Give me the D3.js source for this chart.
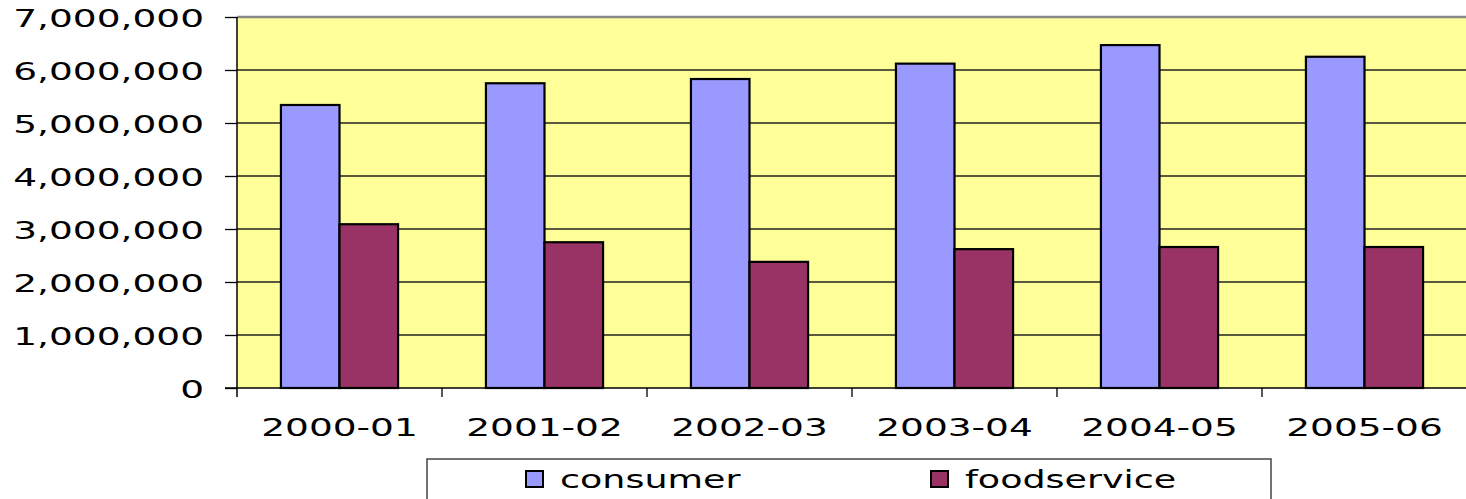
<!DOCTYPE html>
<html>
<head>
<meta charset="utf-8">
<script src="https://cdn.jsdelivr.net/npm/d3@7"></script>
<style>
  html, body { margin: 0; padding: 0; background: #ffffff; }
  svg { display: block; }
  text { font-family: "DejaVu Sans", sans-serif; fill: #000; }
</style>
</head>
<body>
<svg id="chart" width="1466" height="499"></svg>
<script>
const categories = ["2000-01", "2001-02", "2002-03", "2003-04", "2004-05", "2005-06"];
const seriesNames = ["consumer", "foodservice"];
const consumer = [5340000, 5750000, 5830000, 6120000, 6470000, 6250000];
const foodservice = [3090000, 2750000, 2380000, 2620000, 2660000, 2660000];
const yTicks = [0, 1000000, 2000000, 3000000, 4000000, 5000000, 6000000, 7000000];
const seriesColors = ["#9999FF", "#993366"];

const svg = d3.select("#chart");
const plotLeft = 237, plotRight = 1467, plotTop = 17, plotBottom = 388;

const x = d3.scaleBand().domain(categories).range([plotLeft, plotRight]).paddingInner(0).paddingOuter(0);
const x1 = d3.scaleBand().domain(seriesNames).range([0, x.bandwidth()]).paddingInner(0).paddingOuter(0.75);
const y = d3.scaleLinear().domain([0, 7000000]).range([plotBottom, plotTop]);
const color = d3.scaleOrdinal().domain(seriesNames).range(seriesColors);

// plot background
svg.append("rect").attr("x", plotLeft).attr("y", plotTop).attr("width", plotRight - plotLeft).attr("height", plotBottom - plotTop)
  .attr("fill", "#FFFF99");

// gridlines
svg.append("g").selectAll("line").data(yTicks.filter(d => d > 0 && d < 7000000)).join("line")
  .attr("x1", plotLeft).attr("x2", plotRight)
  .attr("y1", d => y(d)).attr("y2", d => y(d))
  .attr("stroke", "#222").attr("stroke-width", 1.3);

// top border
svg.append("line").attr("x1", plotLeft).attr("x2", plotRight).attr("y1", plotTop).attr("y2", plotTop)
  .attr("stroke", "#888").attr("stroke-width", 2.5);

// bars
const data = categories.map((c, i) => ({ cat: c, values: [
  { key: "consumer", value: consumer[i] },
  { key: "foodservice", value: foodservice[i] }
]}));

svg.append("g").selectAll("g").data(data).join("g")
  .attr("transform", d => `translate(${x(d.cat)},0)`)
  .selectAll("rect").data(d => d.values).join("rect")
  .attr("x", d => x1(d.key))
  .attr("width", x1.bandwidth())
  .attr("y", d => y(d.value))
  .attr("height", d => y(0) - y(d.value))
  .attr("fill", d => color(d.key))
  .attr("stroke", "#000").attr("stroke-width", 2.2);

// y axis
const yAxis = svg.append("g").attr("transform", `translate(${plotLeft},0)`)
  .call(d3.axisLeft(y).tickValues(yTicks).tickFormat(d3.format(",")).tickSize(12).tickSizeOuter(0));
yAxis.select(".domain").attr("stroke", "#000").attr("stroke-width", 1.5)
  .attr("d", `M0,${plotTop}V${plotBottom + 9}`);
yAxis.selectAll(".tick line").attr("stroke", "#000").attr("stroke-width", 1.3);
yAxis.selectAll(".tick text")
  .attr("x", 0).attr("dy", "0.36em")
  .attr("transform", "translate(-33,0) scale(1.5,1)")
  .style("font-family", "DejaVu Sans").style("font-size", "25px").attr("fill", "#000");

// x axis
const xAxis = svg.append("g").attr("transform", `translate(0,${plotBottom})`)
  .call(d3.axisBottom(x).tickSize(0).tickSizeOuter(0));
xAxis.select(".domain").attr("stroke", "#000").attr("stroke-width", 1.5)
  .attr("d", `M${plotLeft - 12},0H${plotRight}`);
xAxis.selectAll(".tick text")
  .attr("y", 0).attr("dy", 0)
  .attr("transform", "translate(0,48) scale(1.5,1)")
  .style("font-family", "DejaVu Sans").style("font-size", "25px").attr("fill", "#000");
xAxis.append("g").selectAll("line").data(categories.slice(1)).join("line")
  .attr("x1", d => x(d)).attr("x2", d => x(d))
  .attr("y1", 0).attr("y2", 9)
  .attr("stroke", "#000").attr("stroke-width", 1.3);

// legend
const legend = svg.append("g");
legend.append("rect").attr("x", 427).attr("y", 459).attr("width", 844).attr("height", 80)
  .attr("fill", "#fff").attr("stroke", "#444").attr("stroke-width", 1.5);
const legendX = [526, 931];
const items = legend.selectAll("g.item").data(seriesNames).join("g").attr("class", "item")
  .attr("transform", (d, i) => `translate(${legendX[i]},0)`);
items.append("rect").attr("x", 0).attr("y", 471).attr("width", 17).attr("height", 16)
  .attr("fill", d => color(d)).attr("stroke", "#000").attr("stroke-width", 2);
items.append("text")
  .attr("transform", "translate(34,488) scale(1.52,1)")
  .style("font-size", "24px")
  .text(d => d);
</script>
</body>
</html>
